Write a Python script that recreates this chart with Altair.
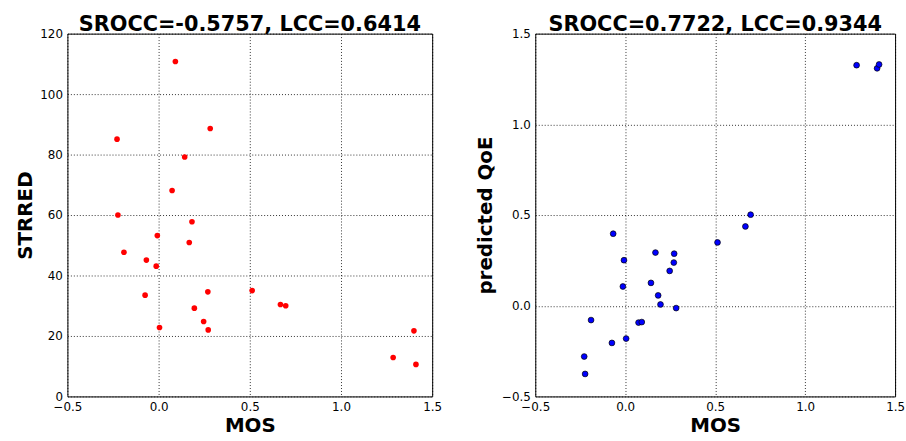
import altair as alt
import pandas as pd

# Values
mos = [-0.228, -0.223, -0.190, -0.074, -0.067, -0.013, -0.007, 0.005, 0.074, 0.092,
       0.143, 0.168, 0.183, 0.196, 0.247, 0.270, 0.272, 0.283, 0.513, 0.668,
       0.697, 1.286, 1.400, 1.411]
strred = [85.1, 60.0, 47.7, 33.5, 45.1, 43.1, 53.2, 22.8, 68.1, 110.8,
          79.2, 50.9, 57.8, 29.2, 24.8, 34.6, 22.0, 88.6, 35.0, 30.4,
          30.0, 12.9, 21.7, 10.6]
qoe = [-0.280, -0.376, -0.079, -0.205, 0.397, 0.106, 0.251, -0.181, -0.093, -0.090,
       0.126, 0.293, 0.057, 0.007, 0.192, 0.238, 0.287, -0.013, 0.349, 0.437,
       0.502, 1.326, 1.309, 1.330]

x_ticks = [-0.5, 0.0, 0.5, 1.0, 1.5]
y_ticks_left = [0, 20, 40, 60, 80, 100, 120]
y_ticks_right = [-0.5, 0.0, 0.5, 1.0, 1.5]

title_left = "SROCC=-0.5757, LCC=0.6414"
title_right = "SROCC=0.7722, LCC=0.9344"

df = pd.DataFrame({"MOS": mos, "STRRED": strred, "QoE": qoe})

FONT = "DejaVu Sans"
MINUS = "replace(datum.label, '-', '\u2212')"

def ax(values, title, fmt, tpad):
    return alt.Axis(values=values, title=title, format=fmt, grid=True,
                    gridColor="black", gridDash=[1, 2], gridWidth=0.8,
                    domain=False, ticks=False, labelFont=FONT, labelFontSize=12,
                    labelColor="black", labelPadding=5, titleFont=FONT,
                    titleFontSize=20, titleFontWeight="bold", titleColor="black",
                    titlePadding=tpad, labelFlush=False, labelOverlap=False,
                    labelExpr=MINUS)

left = alt.Chart(df).mark_circle(size=32, color="red", opacity=1).encode(
    x=alt.X("MOS:Q", scale=alt.Scale(domain=[-0.5, 1.5], nice=False, zero=False),
            axis=ax(x_ticks, "MOS", ".1f", 3)),
    y=alt.Y("STRRED:Q", scale=alt.Scale(domain=[0, 120], nice=False),
            axis=ax(y_ticks_left, "STRRED", "d", 4)),
).properties(
    width=368, height=366,
    title=alt.Title(title_left, font=FONT, fontSize=21, fontWeight="bold",
                    color="black", offset=-7),
)

right = alt.Chart(df).mark_circle(size=34, color="#0000ff", opacity=1,
                                  stroke="black", strokeWidth=0.7).encode(
    x=alt.X("MOS:Q", scale=alt.Scale(domain=[-0.5, 1.5], nice=False, zero=False),
            axis=ax(x_ticks, "MOS", ".1f", 3)),
    y=alt.Y("QoE:Q", scale=alt.Scale(domain=[-0.5, 1.5], nice=False, zero=False),
            axis=ax(y_ticks_right, "predicted QoE", ".1f", 6)),
).properties(
    width=363, height=366,
    title=alt.Title(title_right, font=FONT, fontSize=21, fontWeight="bold",
                    color="black", offset=-7),
)

chart = alt.hconcat(left, right, spacing=32).configure_view(
    stroke="black", strokeWidth=1
).properties(background="white",
             padding={"left": 15, "top": 11, "right": 0, "bottom": 0})

chart.save("out.html", embed_options={"renderer": "svg", "actions": False})
